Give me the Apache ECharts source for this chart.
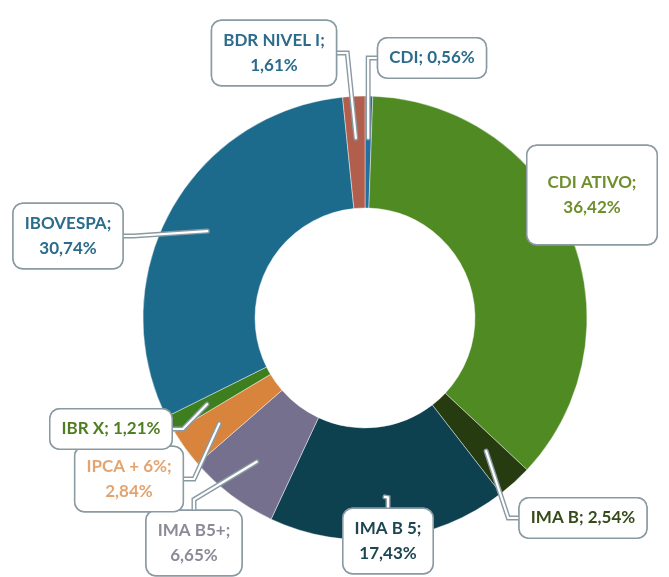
<!DOCTYPE html>
<html>
<head>
<meta charset="utf-8">
<script src="https://cdn.jsdelivr.net/npm/echarts@6/dist/echarts.min.js"></script>
<style>
html,body{margin:0;padding:0;background:#fff;}
#main{width:669px;height:577px;}
</style>
</head>
<body>
<div id="main"></div>
<script>
// dados
var nomes = ['CDI', 'CDI ATIVO', 'IMA B', 'IMA B 5', 'IMA B5+', 'IPCA + 6%', 'IBR X', 'IBOVESPA', 'BDR NIVEL I'];
var valores = [0.56, 36.42, 2.54, 17.43, 6.65, 2.84, 1.21, 30.74, 1.61];
var cores = ['#23709f', '#4f8a22', '#263c10', '#0e4150', '#76708f', '#d9843c', '#3d7e1e', '#1d6b8c', '#b15e4c'];
var coresTexto = ['#2b6c8c', '#6f8f2c', '#364a1a', '#1e4652', '#8b8b98', '#e3a470', '#4e7d22', '#2b6c8c', '#2b6c8c'];
var umaLinha = ['CDI', 'IMA B', 'IBR X'];

// posicao das caixas (centro)
var caixas = [[432, 58], [592, 195], [583, 518], [388, 541], [194, 543], [129, 479], [111, 429], [68, 236], [274, 53]];

var chart = echarts.init(document.getElementById('main'));

var fatias = [];
for (var i = 0; i < nomes.length; i++) {
    fatias.push({name: nomes[i], value: valores[i], itemStyle: {color: cores[i]}});
}

// serie invisivel so para rotulos e "setas"
function serieRotulo(corLinha, larguraLinha, z) {
    var dados = [];
    for (var i = 0; i < nomes.length; i++) {
        var item = {name: nomes[i], value: valores[i], label: {color: coresTexto[i]}};
        if (nomes[i] == 'CDI ATIVO') {
            item.label.padding = [24, 20];
            item.labelLine = {show: false};
        }
        dados.push(item);
    }
    return {
        type: 'pie',
        z: z,
        center: [365, 318],
        radius: [100, 180],
        startAngle: 90,
        silent: true,
        avoidLabelOverlap: false,
        itemStyle: {color: 'rgba(0,0,0,0)'},
        label: {
            show: true,
            fontFamily: 'Lato',
            fontWeight: 'bold',
            fontSize: 17,
            lineHeight: 25,
            align: 'center',
            backgroundColor: '#fff',
            borderColor: '#8a9aa2',
            borderWidth: 1.5,
            borderRadius: 9,
            padding: [7, 11],
            formatter: function (p) {
                var v = p.value.toFixed(2).replace('.', ',') + '%';
                if (umaLinha.indexOf(p.name) >= 0) return p.name + '; ' + v;
                return p.name + ';\n' + v;
            }
        },
        labelLine: {
            show: true,
            length: 10,
            length2: 10,
            lineStyle: {color: corLinha, width: larguraLinha, cap: 'round'}
        },
        labelLayout: function (params) {
            var c = caixas[params.dataIndex];
            return {x: c[0], y: c[1], align: 'center', verticalAlign: 'middle'};
        },
        data: dados
    };
}

option = {
    backgroundColor: '#fff',
    animation: false,
    series: [
        {
            type: 'pie',
            z: 1,
            center: [365, 318],
            radius: [110, 222],
            startAngle: 90,
            silent: true,
            label: {show: false},
            labelLine: {show: false},
            itemStyle: {
                borderColor: 'rgba(255,255,255,0.55)',
                borderWidth: 0.8
            },
            data: fatias
        },
        serieRotulo('#8a9aa2', 5, 3),
        serieRotulo('#ffffff', 2.2, 4)
    ]
};
chart.setOption(option);
</script>
</body>
</html>
